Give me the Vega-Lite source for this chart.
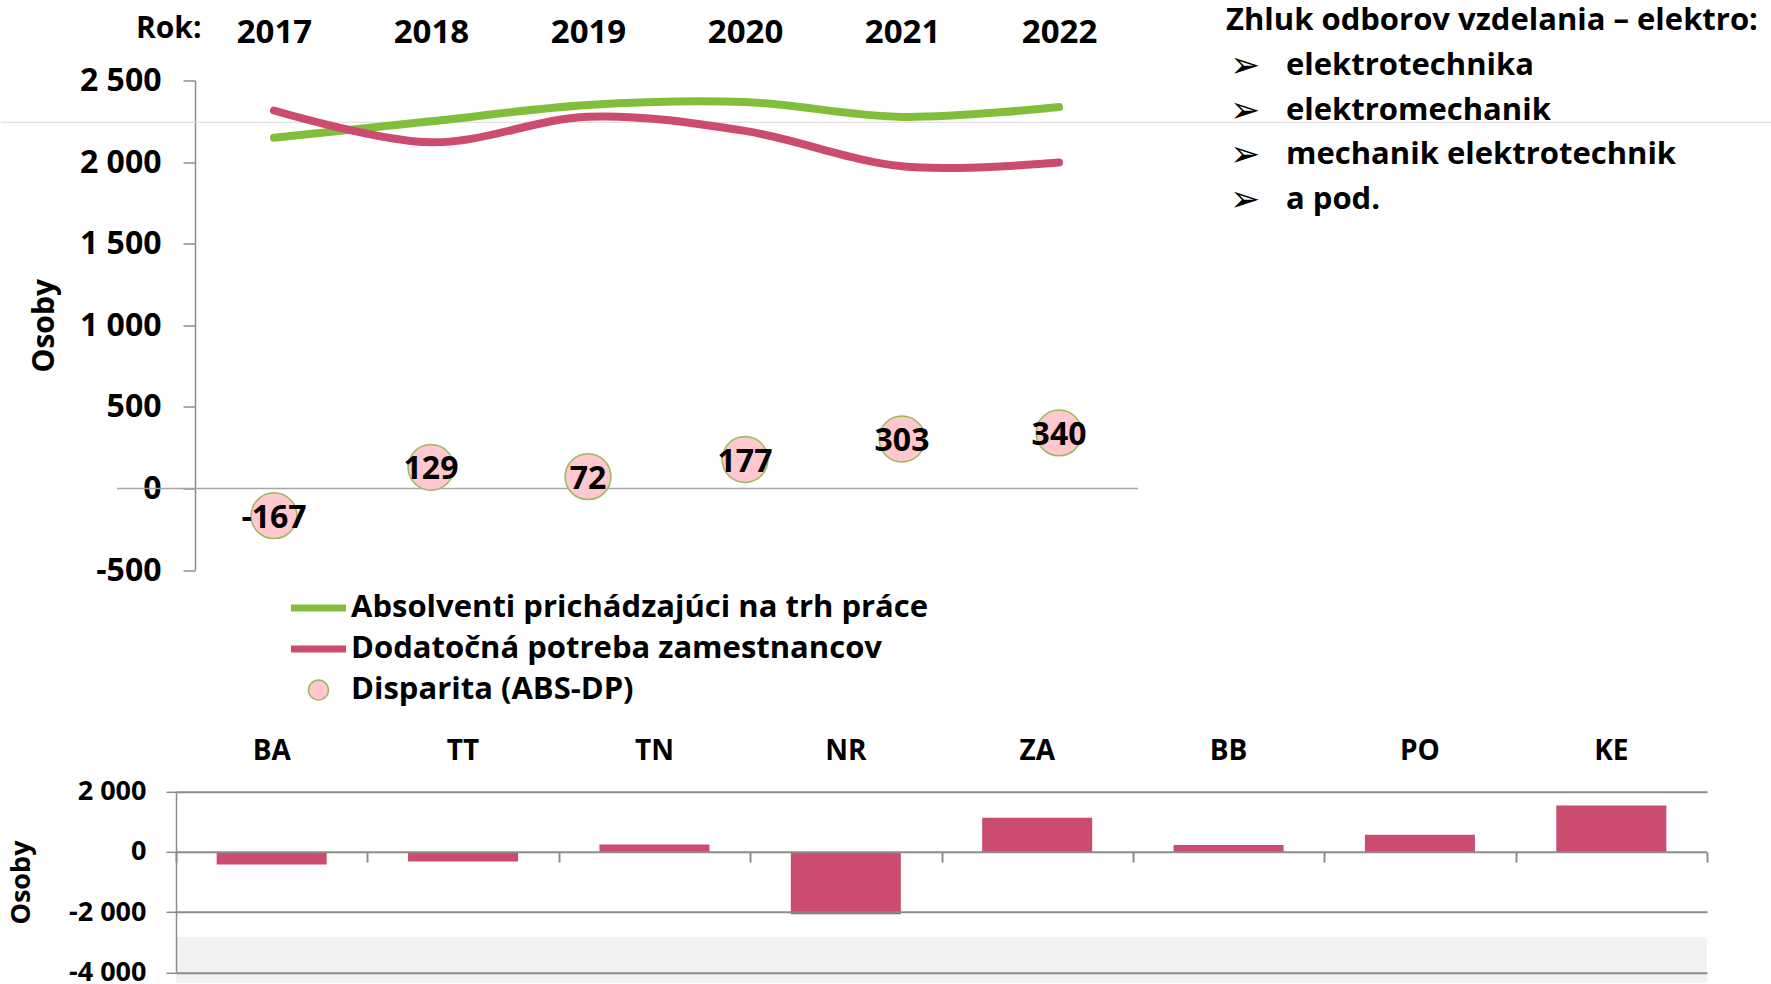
{
  "$schema": "https://vega.github.io/schema/vega-lite/v6.json",
  "padding": {"left": 0, "top": 4.5, "right": 0, "bottom": 0},
  "bounds": "flush",
  "spacing": 221.3,
  "config": {
    "view": {"stroke": null},
    "font": "Open Sans",
    "locale": {"number": {"decimal": ",", "thousands": " ", "grouping": [3], "currency": ["", " €"], "minus": "-"}},
    "axis": {
      "labelFont": "Open Sans", "titleFont": "Open Sans",
      "labelFontWeight": "bold", "titleFontWeight": "bold",
      "labelColor": "#000000", "titleColor": "#000000",
      "grid": false, "domainColor": "#8C8C8C", "tickColor": "#8C8C8C",
      "domainWidth": 1.5, "tickWidth": 1.5,
      "labelOverlap": false, "labelFlush": false
    }
  },
  "datasets": {
    "linie": [
      {"rok": 2017, "seria": "Absolventi prichádzajúci na trh práce", "osoby": 2149},
      {"rok": 2018, "seria": "Absolventi prichádzajúci na trh práce", "osoby": 2250},
      {"rok": 2019, "seria": "Absolventi prichádzajúci na trh práce", "osoby": 2350},
      {"rok": 2020, "seria": "Absolventi prichádzajúci na trh práce", "osoby": 2368},
      {"rok": 2021, "seria": "Absolventi prichádzajúci na trh práce", "osoby": 2277},
      {"rok": 2022, "seria": "Absolventi prichádzajúci na trh práce", "osoby": 2337},
      {"rok": 2017, "seria": "Dodatočná potreba zamestnancov", "osoby": 2316},
      {"rok": 2018, "seria": "Dodatočná potreba zamestnancov", "osoby": 2121},
      {"rok": 2019, "seria": "Dodatočná potreba zamestnancov", "osoby": 2278},
      {"rok": 2020, "seria": "Dodatočná potreba zamestnancov", "osoby": 2191},
      {"rok": 2021, "seria": "Dodatočná potreba zamestnancov", "osoby": 1974},
      {"rok": 2022, "seria": "Dodatočná potreba zamestnancov", "osoby": 1997}
    ],
    "disparita": [
      {"rok": 2017, "seria": "Disparita (ABS-DP)", "hodnota": -167},
      {"rok": 2018, "seria": "Disparita (ABS-DP)", "hodnota": 129},
      {"rok": 2019, "seria": "Disparita (ABS-DP)", "hodnota": 72},
      {"rok": 2020, "seria": "Disparita (ABS-DP)", "hodnota": 177},
      {"rok": 2021, "seria": "Disparita (ABS-DP)", "hodnota": 303},
      {"rok": 2022, "seria": "Disparita (ABS-DP)", "hodnota": 340}
    ],
    "zoznam": [
      {"radok": 0, "uroven": 0, "text": "Zhluk odborov vzdelania – elektro:"},
      {"radok": 1, "uroven": 1, "text": "elektrotechnika"},
      {"radok": 2, "uroven": 1, "text": "elektromechanik"},
      {"radok": 3, "uroven": 1, "text": "mechanik elektrotechnik"},
      {"radok": 4, "uroven": 1, "text": "a pod."}
    ],
    "kraje": [
      {"kraj": "BA", "osoby": -417},
      {"kraj": "TT", "osoby": -318},
      {"kraj": "TN", "osoby": 245},
      {"kraj": "NR", "osoby": -2070},
      {"kraj": "ZA", "osoby": 1140},
      {"kraj": "BB", "osoby": 232},
      {"kraj": "PO", "osoby": 576},
      {"kraj": "KE", "osoby": 1546}
    ]
  },
  "vconcat": [
    {
      "width": 962,
      "height": 489.5,
      "layer": [
        {
          "data": {"values": [{}]},
          "mark": {"type": "rule", "color": "#D9D9D9", "strokeWidth": 1.2},
          "encoding": {
            "x": {"datum": 2015.261, "type": "quantitative", "scale": {"domain": [2016.376, 2022.503], "nice": false, "zero": false}, "axis": null},
            "x2": {"datum": 2026.54},
            "y": {"datum": 2244, "type": "quantitative", "scale": {"domain": [-500, 2500], "nice": false, "zero": false}, "axis": null}
          }
        },
        {
          "data": {"values": [{}]},
          "mark": {"type": "rule", "color": "#A6A6A6", "strokeWidth": 1.5},
          "encoding": {
            "x": {"datum": 2016, "type": "quantitative", "scale": {"domain": [2016.376, 2022.503], "nice": false, "zero": false}, "axis": null},
            "x2": {"datum": 2022.503},
            "y": {"datum": 0, "type": "quantitative", "scale": {"domain": [-500, 2500], "nice": false, "zero": false}, "axis": null}
          }
        },
        {
          "data": {"name": "linie"},
          "mark": {"type": "line", "interpolate": "cardinal", "strokeWidth": 8, "strokeCap": "round"},
          "encoding": {
            "x": {
              "field": "rok", "type": "quantitative",
              "scale": {"domain": [2016.376, 2022.503], "nice": false, "zero": false},
              "axis": {
                "orient": "top", "values": [2017, 2018, 2019, 2020, 2021, 2022], "format": "d",
                "ticks": false, "tickSize": 0, "domain": false,
                "labelFontSize": 33, "labelPadding": 48, "labelBaseline": "middle", "labelAngle": 0,
                "title": "Rok:", "titleFontSize": 30, "titleAngle": 0, "titleAlign": "right",
                "titleBaseline": "middle", "titleX": 25, "titleY": -52
              }
            },
            "y": {
              "field": "osoby", "type": "quantitative",
              "scale": {"domain": [-500, 2500], "nice": false, "zero": false},
              "axis": {
                "tickCount": 6,
                "offset": -19, "tickSize": 12, "labelPadding": 22, "labelFontSize": 32,
                "title": "Osoby", "titleFontSize": 30, "titleAngle": 270,
                "titleX": -151, "titleY": 244.75, "titleAlign": "center", "titleBaseline": "middle"
              }
            },
            "color": {
              "field": "seria", "type": "nominal",
              "scale": {
                "domain": ["Absolventi prichádzajúci na trh práce", "Dodatočná potreba zamestnancov", "Disparita (ABS-DP)"],
                "range": ["#82BE3C", "#CB4C6E", "#9BBB59"]
              },
              "legend": {
                "orient": "none", "legendX": 127, "legendY": 512, "title": null,
                "symbolType": "stroke", "symbolSize": 3025, "symbolStrokeWidth": 7,
                "labelFontSize": 31, "labelFont": "Open Sans", "labelFontWeight": "bold",
                "labelColor": "#000000", "labelOffset": 17, "rowPadding": 9,
                "labelLimit": 900,
                "encode": {
                  "symbols": {
                    "update": {
                      "shape": {"signal": "datum.value === 'Disparita (ABS-DP)' ? 'circle' : 'stroke'"},
                      "size": {"signal": "datum.value === 'Disparita (ABS-DP)' ? 400 : 3025"},
                      "fill": {"signal": "datum.value === 'Disparita (ABS-DP)' ? '#FFC7CE' : 'transparent'"},
                      "strokeWidth": {"signal": "datum.value === 'Disparita (ABS-DP)' ? 1.5 : 7"},
                      "opacity": {"value": 1}
                    }
                  }
                }
              }
            }
          }
        },
        {
          "data": {"name": "disparita"},
          "mark": {"type": "point", "filled": false, "fill": "#FFC7CE", "strokeWidth": 1.5, "size": 2100, "opacity": 1},
          "encoding": {
            "x": {"field": "rok", "type": "quantitative", "scale": {"domain": [2016.376, 2022.503], "nice": false, "zero": false}, "axis": null},
            "y": {"field": "hodnota", "type": "quantitative", "scale": {"domain": [-500, 2500], "nice": false, "zero": false}, "axis": null},
            "color": {"field": "seria", "type": "nominal"}
          }
        },
        {
          "data": {"name": "disparita"},
          "mark": {"type": "text", "fontSize": 32, "fontWeight": "bold", "color": "#000000", "align": "center", "baseline": "middle", "dy": 2},
          "encoding": {
            "x": {"field": "rok", "type": "quantitative", "scale": {"domain": [2016.376, 2022.503], "nice": false, "zero": false}, "axis": null},
            "y": {"field": "hodnota", "type": "quantitative", "scale": {"domain": [-500, 2500], "nice": false, "zero": false}, "axis": null},
            "text": {"field": "hodnota", "type": "quantitative", "format": "d"}
          }
        },
        {
          "data": {"name": "zoznam"},
          "mark": {"type": "text", "fontSize": 31, "fontWeight": "bold", "color": "#000000", "align": "left", "baseline": "middle"},
          "encoding": {
            "x": {"field": "uroven", "type": "quantitative", "scale": {"domain": [0, 1], "range": [1050, 1110]}, "axis": null},
            "y": {"field": "radok", "type": "quantitative", "scale": {"domain": [0, 4], "range": [-59.5, 119.5]}, "axis": null},
            "text": {"field": "text", "type": "nominal"}
          }
        },
        {
          "data": {"name": "zoznam"},
          "transform": [{"filter": "datum.uroven == 1"}],
          "mark": {"type": "text", "text": "➢", "font": "DejaVu Sans", "fontSize": 36, "color": "#000000", "align": "left", "baseline": "middle", "dx": 4},
          "encoding": {
            "x": {"datum": 0, "type": "quantitative", "scale": {"domain": [0, 1], "range": [1050, 1110]}, "axis": null},
            "y": {"field": "radok", "type": "quantitative", "scale": {"domain": [0, 4], "range": [-59.5, 119.5]}, "axis": null}
          }
        }
      ],
      "resolve": {"scale": {"x": "independent", "y": "independent"}}
    },
    {
      "width": 1531,
      "height": 180.5,
      "data": {"name": "kraje"},
      "layer": [
        {
          "data": {"values": [{}]},
          "mark": {"type": "rect", "color": "#F2F2F2"},
          "encoding": {
            "y": {"datum": -2830, "type": "quantitative", "scale": {"domain": [-4000, 2000], "nice": false, "zero": false}},
            "y2": {"datum": -4350}
          }
        },
        {
          "mark": {"type": "bar", "color": "#CB4C6E"},
          "encoding": {
            "x": {
              "field": "kraj", "type": "nominal", "sort": null,
              "scale": {"paddingInner": 0.425, "paddingOuter": 0.2125},
              "axis": {
                "orient": "top", "ticks": false, "tickSize": 0, "domain": false,
                "labelFontSize": 28, "labelPadding": 40, "labelBaseline": "middle", "labelAngle": 0,
                "title": null
              }
            },
            "y": {
              "field": "osoby", "type": "quantitative",
              "scale": {"domain": [-4000, 2000], "nice": false, "zero": false},
              "axis": {
                "tickCount": 3,
                "grid": true, "gridColor": "#8C8C8C", "gridWidth": 2,
                "tickSize": 10, "labelPadding": 20, "labelFontSize": 27, "zindex": 1,
                "title": "Osoby", "titleFontSize": 27, "titleAngle": 270,
                "titleX": -155, "titleY": 90.25, "titleAlign": "center", "titleBaseline": "middle"
              }
            }
          }
        },
        {
          "mark": {"type": "bar", "opacity": 0},
          "encoding": {
            "x": {
              "field": "kraj", "type": "nominal", "sort": null,
              "scale": {"paddingInner": 0, "paddingOuter": 0},
              "axis": {
                "orient": "bottom", "offset": -120.2, "labels": false, "tickBand": "extent",
                "ticks": true, "tickSize": 10, "tickWidth": 2, "domain": false, "title": null, "zindex": 1
              }
            },
            "y": {"field": "osoby", "type": "quantitative", "scale": {"domain": [-4000, 2000], "nice": false, "zero": false}}
          }
        }
      ],
      "resolve": {"scale": {"x": "independent"}, "axis": {"x": "independent"}}
    }
  ]
}
